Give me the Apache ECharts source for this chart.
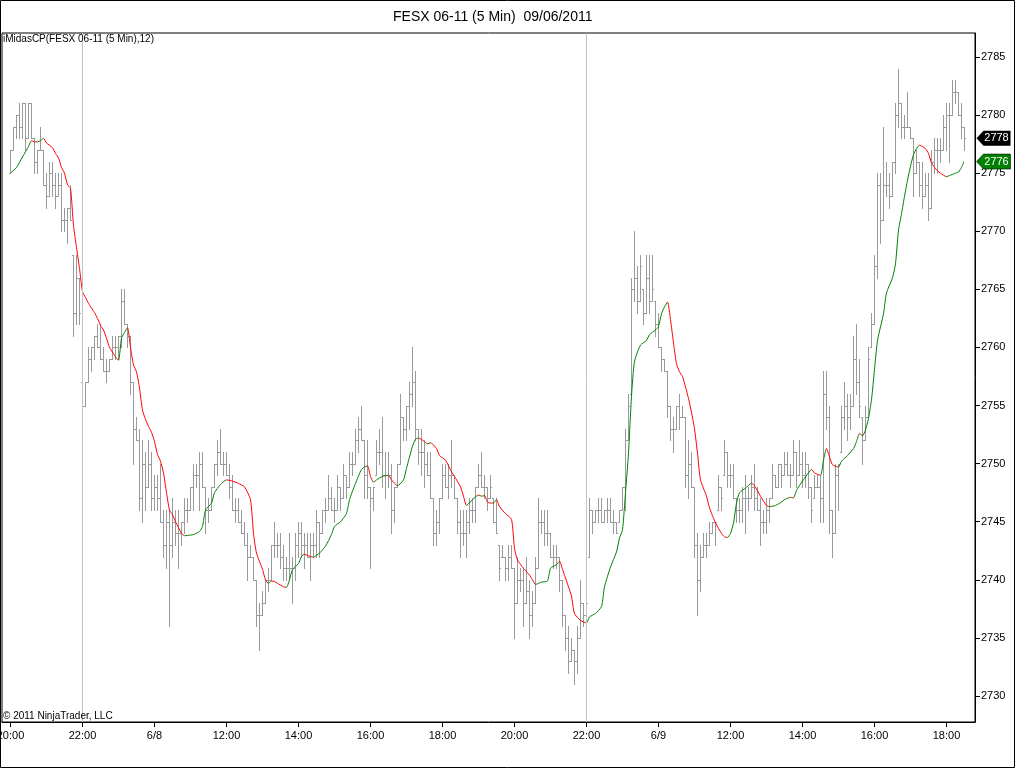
<!DOCTYPE html>
<html><head><meta charset="utf-8">
<script src="https://cdn.jsdelivr.net/npm/echarts@6/dist/echarts.min.js"></script>
<style>html,body{margin:0;padding:0;background:#fff}#c{width:1016px;height:769px}</style>
</head><body><div id="c"></div>
<script>
var opens = [
2775,2777,2779,2780,2779,2781,2778,2781,2778,2776,
2777,2777,2774,2773,2775,2774,2773,2774,2771,2771,
2772,2768,2763,2766,2757,2755,2757,2759,2760,2761,
2760,2759,2758,2758,2759,2760,2760,2761,2764,2762,
2761,2757,2753,2752,2747,2750,2748,2750,2747,2748,
2747,2745,2743,2745,2743,2745,2744,2744,2745,2746,
2746,2748,2749,2749,2750,2748,2746,2746,2748,2750,
2751,2750,2750,2749,2748,2746,2746,2745,2744,2743,
2742,2742,2740,2737,2737,2738,2740,2740,2743,2743,
2743,2742,2741,2741,2741,2741,2743,2744,2743,2743,
2742,2743,2743,2745,2744,2746,2746,2747,2746,2746,
2748,2747,2749,2748,2750,2750,2752,2753,2752,2749,
2748,2747,2749,2751,2751,2749,2749,2749,2746,2748,
2750,2754,2753,2755,2756,2757,2753,2751,2751,2750,
2749,2747,2744,2745,2747,2749,2748,2749,2749,2747,
2745,2744,2744,2745,2746,2746,2748,2749,2748,2748,
2747,2747,2745,2743,2742,2742,2741,2742,2741,2738,
2740,2740,2738,2739,2737,2738,2741,2745,2745,2744,
2744,2742,2742,2742,2740,2737,2735,2733,2734,2733,
2735,2738,2737,2742,2746,2745,2746,2746,2745,2746,
2746,2745,2745,2745,2746,2748,2752,2756,2765,2766,
2764,2765,2763,2766,2764,2764,2762,2760,2759,2758,
2755,2753,2753,2755,2754,2754,2749,2750,2748,2743,
2740,2742,2743,2743,2744,2745,2746,2748,2749,2751,
2749,2749,2747,2746,2746,2747,2747,2747,2748,2747,
2746,2745,2745,2746,2747,2749,2748,2750,2749,2750,
2749,2749,2751,2749,2750,2749,2750,2748,2747,2748,
2748,2747,2756,2754,2746,2744,2749,2751,2754,2755,
2754,2755,2759,2757,2754,2752,2754,2760,2762,2767,
2774,2771,2774,2774,2773,2776,2780,2781,2779,2779,
2779,2778,2775,2776,2774,2773,2774,2772,2776,2777,
2777,2777,2779,2780,2780,2782,2782,2780,2779];
var highs = [
2777,2779,2780,2781,2781,2781,2781,2781,2778,2777,
2779,2777,2775,2776,2776,2775,2775,2775,2772,2772,
2774,2768,2768,2766,2757,2757,2760,2760,2761,2762,
2762,2760,2759,2759,2761,2761,2761,2765,2765,2762,
2761,2757,2754,2753,2752,2751,2752,2751,2749,2749,
2750,2746,2746,2746,2747,2746,2746,2745,2747,2747,
2748,2750,2750,2751,2751,2748,2747,2748,2750,2752,
2753,2751,2751,2750,2749,2747,2747,2746,2745,2744,
2743,2742,2740,2738,2739,2740,2741,2743,2745,2744,
2744,2743,2742,2744,2742,2744,2745,2745,2744,2744,
2744,2744,2746,2745,2746,2747,2749,2748,2747,2749,
2748,2750,2749,2751,2751,2753,2754,2755,2752,2752,
2748,2748,2752,2753,2754,2751,2751,2750,2748,2750,
2756,2754,2755,2757,2760,2758,2753,2753,2752,2751,
2751,2747,2746,2747,2750,2750,2750,2752,2749,2747,
2746,2746,2746,2747,2747,2748,2750,2751,2749,2748,
2749,2747,2747,2743,2743,2742,2743,2743,2741,2742,
2741,2741,2742,2740,2739,2742,2747,2746,2746,2746,
2744,2743,2743,2742,2740,2737,2736,2735,2734,2736,
2740,2738,2739,2747,2746,2746,2747,2747,2746,2747,
2747,2746,2745,2746,2748,2753,2756,2766,2770,2767,
2768,2765,2768,2768,2768,2764,2763,2760,2759,2758,
2755,2754,2755,2756,2755,2754,2752,2751,2748,2744,
2743,2744,2744,2745,2745,2745,2749,2748,2752,2751,
2750,2750,2747,2747,2748,2749,2748,2749,2750,2748,
2747,2746,2747,2747,2750,2749,2750,2750,2751,2751,
2750,2752,2751,2752,2751,2751,2750,2748,2749,2749,
2749,2758,2758,2755,2746,2750,2750,2755,2757,2756,
2756,2761,2762,2759,2754,2755,2760,2763,2768,2775,
2775,2779,2776,2775,2776,2781,2784,2781,2780,2782,
2779,2778,2777,2776,2776,2775,2775,2777,2778,2778,
2778,2780,2781,2781,2783,2783,2782,2781,2779];
var lows = [
2775,2777,2778,2778,2778,2777,2778,2778,2775,2775,
2777,2774,2772,2773,2773,2772,2773,2770,2770,2769,
2771,2761,2762,2762,2753,2755,2757,2758,2759,2760,
2759,2758,2757,2758,2759,2759,2759,2760,2762,2760,
2756,2750,2752,2746,2745,2746,2748,2746,2746,2746,
2745,2742,2741,2736,2742,2743,2741,2743,2744,2745,
2746,2746,2748,2746,2748,2744,2745,2746,2748,2749,
2750,2749,2749,2747,2746,2745,2745,2744,2743,2740,
2742,2740,2736,2734,2737,2738,2739,2740,2742,2742,
2741,2740,2740,2740,2738,2740,2742,2742,2741,2742,
2740,2742,2742,2742,2744,2745,2746,2746,2745,2746,
2746,2747,2747,2748,2749,2750,2751,2752,2747,2747,
2741,2746,2749,2750,2748,2747,2748,2744,2745,2748,
2750,2752,2752,2753,2755,2752,2750,2749,2748,2749,
2747,2743,2743,2744,2747,2748,2747,2748,2747,2744,
2742,2743,2742,2744,2745,2745,2748,2748,2747,2746,
2747,2745,2744,2740,2742,2740,2740,2741,2735,2738,
2739,2736,2738,2735,2736,2738,2741,2744,2743,2743,
2742,2741,2741,2739,2736,2734,2732,2733,2731,2732,
2735,2736,2736,2742,2744,2745,2745,2745,2745,2745,
2745,2744,2744,2745,2746,2746,2752,2756,2764,2763,
2764,2762,2763,2763,2764,2761,2760,2758,2758,2754,
2752,2751,2753,2753,2754,2748,2747,2748,2742,2737,
2739,2742,2742,2743,2744,2743,2746,2746,2749,2748,
2748,2747,2745,2745,2745,2744,2746,2747,2746,2746,
2743,2744,2744,2745,2747,2748,2748,2748,2749,2749,
2748,2749,2748,2749,2748,2748,2747,2745,2747,2748,
2745,2745,2753,2744,2742,2744,2746,2751,2753,2752,
2753,2755,2756,2754,2750,2752,2754,2760,2762,2766,
2769,2771,2773,2772,2773,2775,2779,2778,2778,2779,
2778,2773,2775,2773,2772,2773,2771,2772,2775,2775,
2776,2777,2777,2776,2780,2781,2780,2778,2777];
var closes = [
2777,2779,2780,2779,2781,2778,2781,2778,2776,2777,
2777,2774,2773,2775,2774,2773,2774,2771,2771,2772,
2771,2763,2766,2763,2755,2757,2759,2760,2761,2760,
2759,2758,2758,2759,2760,2760,2761,2764,2762,2761,
2757,2753,2752,2747,2750,2748,2750,2747,2748,2747,
2745,2743,2745,2743,2745,2744,2744,2745,2746,2746,
2748,2749,2749,2750,2748,2746,2746,2748,2750,2751,
2750,2750,2749,2748,2746,2746,2745,2744,2743,2742,
2742,2740,2737,2737,2738,2740,2740,2743,2743,2743,
2742,2741,2741,2741,2741,2743,2744,2743,2743,2742,
2743,2743,2745,2744,2746,2746,2747,2746,2746,2748,
2747,2749,2748,2750,2750,2752,2753,2752,2749,2748,
2747,2748,2751,2751,2749,2749,2749,2746,2748,2750,
2754,2753,2755,2756,2757,2753,2751,2751,2750,2749,
2747,2744,2745,2747,2749,2748,2749,2749,2747,2745,
2744,2744,2745,2746,2746,2748,2749,2748,2748,2747,
2748,2745,2744,2741,2742,2741,2742,2741,2738,2740,
2740,2738,2739,2737,2738,2741,2745,2745,2744,2744,
2742,2742,2742,2740,2737,2735,2733,2734,2733,2735,
2738,2737,2738,2746,2745,2746,2746,2745,2746,2746,
2745,2745,2744,2746,2748,2752,2755,2765,2766,2764,
2767,2763,2766,2764,2765,2762,2760,2759,2758,2755,
2753,2753,2755,2754,2754,2749,2750,2748,2743,2740,
2742,2743,2743,2744,2745,2745,2748,2747,2751,2749,
2749,2747,2746,2746,2747,2747,2747,2748,2747,2746,
2745,2745,2746,2747,2749,2748,2750,2749,2750,2749,
2749,2751,2749,2750,2749,2750,2748,2746,2748,2748,
2747,2756,2754,2746,2744,2749,2750,2754,2755,2754,
2755,2759,2757,2755,2752,2754,2759,2762,2767,2774,
2771,2774,2774,2773,2776,2780,2781,2779,2779,2779,
2778,2775,2776,2774,2773,2774,2772,2776,2777,2777,
2777,2779,2780,2780,2782,2782,2780,2779,2778];
var midas = [
[0,2775.0],[2,2775.5],[4,2776.4],[6,2777.3],[7,2777.8],[8,2777.7],[9,2777.7],[10,2777.8],[11,2778.0],[12,2777.6],
[14,2777.2],[15,2776.7],[16,2776.3],[17,2775.5],[18,2775.0],[19,2774.0],[20,2773.7],[21,2770.5],[22,2768.6],[23,2766.8],
[24,2764.8],[25,2764.3],[26,2763.8],[27,2763.4],[28,2763.0],[29,2762.5],[30,2761.9],[31,2761.5],[32,2760.8],[33,2760.0],
[34,2759.6],[35,2759.2],[36,2758.9],[37,2760.8],[38,2761.3],[39,2761.7],[40,2760.0],[41,2758.5],[42,2757.9],[43,2756.5],
[44,2754.6],[45,2753.8],[46,2753.2],[47,2752.7],[48,2751.9],[49,2750.8],[50,2750.2],[51,2749.2],[52,2747.5],[53,2746.0],
[54,2745.6],[55,2745.0],[56,2744.5],[57,2744.0],[58,2743.8],[60,2743.85],[61,2743.9],[63,2744.15],[64,2744.6],[65,2746.0],
[67,2746.6],[68,2747.5],[70,2748.2],[72,2748.6],[74,2748.5],[76,2748.3],[78,2748.0],[80,2746.9],[81,2744.0],[82,2742.3],
[84,2740.9],[85,2740.0],[86,2739.7],[87,2739.9],[88,2739.85],[89,2739.7],[91,2739.4],[92,2739.35],[93,2740.0],[94,2740.9],
[96,2741.4],[97,2742.0],[98,2742.2],[99,2742.1],[101,2741.95],[102,2742.1],[103,2742.3],[105,2742.9],[107,2743.9],[108,2744.6],
[110,2745.0],[112,2745.7],[113,2746.9],[115,2748.3],[117,2749.5],[118,2749.7],[119,2749.8],[120,2748.9],[121,2748.4],[122,2748.6],
[124,2748.9],[126,2749.0],[127,2748.6],[129,2748.1],[131,2748.6],[132,2749.6],[134,2751.5],[135,2752.1],[136,2752.2],[138,2751.9],
[139,2751.7],[140,2751.8],[142,2751.3],[143,2750.7],[145,2750.3],[147,2749.3],[148,2748.9],[150,2748.0],[151,2747.2],[152,2746.4],
[154,2746.9],[156,2747.3],[157,2747.2],[158,2747.25],[159,2746.7],[160,2746.6],[161,2746.6],[162,2746.9],[163,2746.3],[165,2745.7],
[167,2745.2],[168,2742.7],[169,2741.7],[171,2741.0],[173,2740.4],[174,2740.0],[175,2739.6],[177,2739.8],[179,2739.9],[180,2741.0],
[182,2741.3],[183,2741.6],[184,2740.9],[186,2739.4],[187,2738.6],[188,2737.1],[190,2736.5],[192,2736.3],[193,2736.8],[195,2737.1],
[197,2737.7],[198,2739.4],[200,2741.1],[202,2742.4],[203,2743.6],[204,2744.3],[205,2747.5],[206,2750.9],[207,2755.8],[208,2758.8],
[210,2760.2],[212,2760.6],[213,2761.1],[215,2761.5],[216,2761.8],[217,2762.9],[218,2763.5],[219,2763.9],[220,2762.4],[221,2760.4],
[222,2758.6],[223,2757.9],[224,2757.5],[225,2756.6],[226,2755.6],[227,2754.4],[228,2753.0],[229,2750.9],[230,2748.6],[232,2747.2],
[233,2746.2],[235,2744.9],[237,2744.0],[238,2743.7],[239,2743.65],[240,2744.0],[241,2744.9],[242,2746.6],[243,2747.5],[245,2747.9],
[247,2748.3],[248,2748.1],[250,2747.2],[252,2746.4],[253,2746.3],[255,2746.4],[257,2746.7],[258,2746.9],[260,2747.1],[261,2747.05],
[262,2747.7],[264,2748.5],[266,2749.2],[267,2749.5],[268,2749.2],[270,2749.0],[271,2750.3],[272,2751.3],[273,2750.6],[274,2749.9],
[276,2749.7],[277,2750.2],[279,2750.7],[281,2751.3],[282,2751.9],[283,2752.6],[284,2752.4],[285,2752.9],[286,2753.9],[287,2755.5],
[288,2758.1],[289,2760.6],[291,2762.9],[292,2764.7],[294,2766.0],[295,2767.2],[296,2770.1],[297,2771.5],[298,2773.0],[299,2774.4],
[300,2775.6],[301,2776.6],[302,2777.1],[303,2777.4],[304,2777.3],[305,2777.1],[306,2776.7],[307,2775.9],[308,2775.5],[309,2775.2],
[310,2775.0],[312,2774.7],[313,2774.8],[315,2775.0],[316,2775.1],[317,2775.5],[318,2776.1]];
var tickLabels = ['20:00','22:00','6/8','12:00','14:00','16:00','18:00','20:00','22:00','6/9','12:00','14:00','16:00','18:00'];
var tickBarIndex = [0,24,48,72,96,120,144,168,192,216,240,264,288,312];
var sessionBreaks = [24,192];
var yTicks = [2730,2735,2740,2745,2750,2755,2760,2765,2770,2775,2780,2785];
var lastClose = 2778, lastMidas = 2776;

var F = '"Liberation Sans", Arial, sans-serif';
var GREEN = '#008000', RED = '#ff0000', BAR = '#9a9a9a';
var ohlc = opens.map(function (o, i) { return [i, o, highs[i], lows[i], closes[i]]; });

var pieces = [];
(function () {
  var runColor = null, runStart = midas[0][0];
  for (var j = 0; j < midas.length - 1; j++) {
    var col = midas[j + 1][1] > midas[j][1] ? GREEN : RED;
    if (runColor === null) { runColor = col; runStart = midas[j][0]; }
    else if (col !== runColor) {
      pieces.push({ gte: runStart, lt: midas[j][0], color: runColor });
      runColor = col; runStart = midas[j][0];
    }
  }
  pieces.push({ gte: runStart, lte: midas[midas.length - 1][0], color: runColor });
})();

var chart = echarts.init(document.getElementById('c'));
var markerPath = 'path://M0,7.5L7,0L34,0L34,15L7,15Z';
chart.setOption({
  animation: false,
  title: { text: 'FESX 06-11 (5 Min)  09/06/2011', left: 388, top: 5,
    textStyle: { fontFamily: F, fontSize: 14, fontWeight: 'normal', color: '#000' } },
  grid: { left: 2, right: 41, top: 33, bottom: 47, show: true, borderColor: '#000', borderWidth: 1, backgroundColor: '#fff',
    containLabel: false, outerBoundsMode: 'none' },
  xAxis: {
    type: 'value', min: -2.8333, max: 321.5,
    axisLine: { show: true, onZero: false, lineStyle: { color: '#000' } },
    splitLine: { show: false },
    axisTick: { show: true, length: 5, customValues: tickBarIndex, lineStyle: { color: '#000' } },
    axisLabel: { customValues: tickBarIndex, color: '#000', fontSize: 11, fontFamily: F, margin: 8, hideOverlap: false,
      formatter: function (v) { var i = tickBarIndex.indexOf(Math.round(v)); return i >= 0 ? tickLabels[i] : ''; } }
  },
  yAxis: {
    type: 'value', position: 'right', min: 2727.762, max: 2787.066, scale: true,
    axisLine: { show: true, onZero: false, lineStyle: { color: '#000' } },
    splitLine: { show: false },
    axisTick: { show: true, length: 5, customValues: yTicks, lineStyle: { color: '#000' } },
    axisLabel: { customValues: yTicks, color: '#000', fontSize: 11, fontFamily: F, margin: 6,
      formatter: function (v) { return String(Math.round(v)); } }
  },
  visualMap: { type: 'piecewise', show: false, dimension: 0, seriesIndex: 2, pieces: pieces },
  series: [
    { type: 'line', data: [], silent: true, z: 1,
      markLine: { silent: true, symbol: ['none', 'none'], label: { show: false },
        lineStyle: { color: '#c4c4c4', type: 'solid', width: 1 },
        data: sessionBreaks.map(function (b) { return { xAxis: b }; }) } },
    { type: 'custom', z: 2, silent: true, data: ohlc, encode: { x: 0, y: [1, 2, 3, 4] },
      renderItem: function (params, api) {
        var k = api.value(0);
        var po = api.coord([k, api.value(1)]);
        var ph = api.coord([k, api.value(2)]);
        var pl = api.coord([k, api.value(3)]);
        var pc = api.coord([k, api.value(4)]);
        var px = Math.floor(po[0]);
        var st = { stroke: BAR, lineWidth: 1 };
        return { type: 'group', children: [
          { type: 'line', shape: { x1: px + 0.5, y1: Math.round(ph[1]), x2: px + 0.5, y2: Math.round(pl[1]) + 1 }, style: st },
          { type: 'line', shape: { x1: px - 1, y1: Math.round(po[1]) + 0.5, x2: px, y2: Math.round(po[1]) + 0.5 }, style: st },
          { type: 'line', shape: { x1: px + 1, y1: Math.round(pc[1]) + 0.5, x2: px + 2, y2: Math.round(pc[1]) + 0.5 }, style: st }
        ] };
      } },
    { type: 'line', z: 3, data: midas, showSymbol: false, smooth: 0.2, silent: true,
      lineStyle: { width: 1 },
      markPoint: { silent: true, symbol: markerPath, symbolSize: [34, 15], symbolKeepAspect: false,
        label: { show: true, position: 'inside', offset: [3, 0], color: '#fff', fontSize: 11, fontFamily: F },
        data: [
          { coord: [318, lastClose], value: lastClose, symbolOffset: [29, 0], itemStyle: { color: '#000' } },
          { coord: [318, lastMidas], value: lastMidas, symbolOffset: [29, 0], itemStyle: { color: GREEN, borderColor: '#000', borderWidth: 0.5 } }
        ] } }
  ],
  graphic: [
    { type: 'rect', silent: true, z: 100, shape: { x: 0.5, y: 0.5, width: 1014, height: 767 }, style: { fill: null, stroke: '#000', lineWidth: 1 } },
    { type: 'text', left: 3, top: 34, z: 100, style: { text: 'iMidasCP(FESX 06-11 (5 Min),12)', fontSize: 10, fontFamily: F, fill: '#000' } },
    { type: 'text', left: 3, top: 711, z: 100, style: { text: '\u00a9 2011 NinjaTrader, LLC', fontSize: 10, fontFamily: F, fill: '#000' } }
  ]
});
</script></body></html>
